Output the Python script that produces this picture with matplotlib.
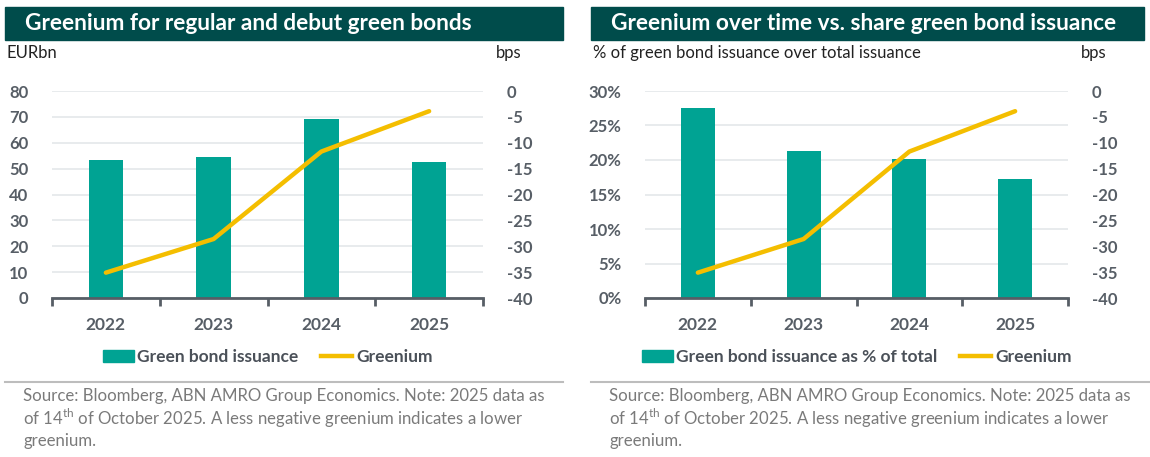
import matplotlib
matplotlib.use("Agg")
import matplotlib.pyplot as plt
from matplotlib.patches import Rectangle, Patch
from matplotlib.lines import Line2D
import numpy as np

plt.rcParams['font.family'] = ['Lato', 'DejaVu Sans']
plt.rcParams['mathtext.fontset'] = 'custom'
plt.rcParams['mathtext.rm'] = 'Lato'
plt.rcParams['axes.unicode_minus'] = False

# data
years = ['2022', '2023', '2024', '2025']
issuance = [53.2, 54.6, 69.2, 52.6]          # EURbn
share = [27.5, 21.3, 20.2, 17.3]             # % of total issuance
greenium = [-35.1, -28.6, -11.7, -3.9]       # bps

left_ticks = [0, 10, 20, 30, 40, 50, 60, 70, 80]
share_ticks = [0, 5, 10, 15, 20, 25, 30]
bps_ticks = [0, -5, -10, -15, -20, -25, -30, -35, -40]

# colours
BANNER = '#004c4b'
TEAL = '#00a393'
YELLOW = '#f4be00'
TICKCOL = '#575e66'
GRID = '#e4e7ea'
SRC = '#7a7a7a'

W, H = 1150, 457
fig = plt.figure(figsize=(W / 100, H / 100), dpi=100)


def fx(px):
    return px / W


def fy(py):
    return 1 - py / H


def panel(x0, x1, title, banner, ylab, bars, bar_ticks, bar_fmt, bar_max, bar_label, sep):
    ax = fig.add_axes([fx(x0), fy(298), fx(x1) - fx(x0), fy(91) - fy(298)])
    x = np.arange(len(years))
    ax.bar(x, bars, width=0.32, color=TEAL, zorder=2)
    ax.set_xlim(-0.5, len(years) - 0.5)
    ax.set_ylim(0, bar_max)
    ax.set_yticks(bar_ticks)
    ax.set_yticklabels([bar_fmt(v) for v in bar_ticks])
    ax.set_xticks(x)
    ax.set_xticklabels(years)
    ax.set_xticks(np.arange(-0.5, len(years)), minor=True)
    ax.tick_params(axis='x', which='major', length=0, pad=14, labelsize=12.5,
                   labelcolor=TICKCOL)
    ax.tick_params(axis='x', which='minor', length=6, width=2, color=TICKCOL, direction='out')
    ax.tick_params(axis='y', length=0, pad=17, labelsize=12, labelcolor=TICKCOL)
    for lab in ax.get_xticklabels() + ax.get_yticklabels():
        lab.set_fontweight('bold')
    ax.grid(axis='y', color=GRID, lw=1.2, zorder=0)
    for s in ['top', 'right', 'left']:
        ax.spines[s].set_visible(False)
    ax.spines['bottom'].set_color(TICKCOL)
    ax.spines['bottom'].set_linewidth(2)
    ax.spines['bottom'].set_zorder(4)

    ax2 = ax.twinx()
    ax2.plot(x, greenium, color=YELLOW, lw=3.2, solid_capstyle='round', zorder=3)
    ax2.set_ylim(-40, 0)
    ax2.set_yticks(bps_ticks)
    ax2.tick_params(axis='y', length=0, pad=17, labelsize=12, labelcolor=TICKCOL)
    for lab in ax2.get_yticklabels():
        lab.set_fontweight('bold')
    for s in ax2.spines.values():
        s.set_visible(False)

    # title banner
    fig.patches.append(Rectangle((fx(banner[0]), fy(40)), fx(banner[1]) - fx(banner[0]),
                                 fy(7) - fy(40), transform=fig.transFigure,
                                 color=BANNER, zorder=0))
    fig.text(fx(banner[0] + 20), fy(23.5), title, color='white', fontsize=16.3,
             fontweight='bold', va='center', ha='left')
    fig.text(fx(banner[0] + 2), fy(53), ylab, fontsize=12, color='#222222', va='center')
    fig.text(fx(x1 + 13), fy(53), 'bps', fontsize=12, color='#222222', va='center')

    # legend
    handles = [Patch(color=TEAL), Line2D([0], [0], color=YELLOW, lw=3.2)]
    leg = ax.legend(handles, [bar_label, 'Greenium'], ncol=2, frameon=False,
                    loc='center', bbox_to_anchor=(0.5, (298 - 357) / (298 - 91)),
                    handlelength=1.8, handletextpad=0.2, columnspacing=1.3,
                    prop={'size': 12.5, 'weight': 'bold'})
    for t in leg.get_texts():
        t.set_color('#4a5058')

    # separator and source
    fig.lines.append(Line2D([fx(sep[0]), fx(sep[1])], [fy(382), fy(382)],
                            transform=fig.transFigure, color='#bdbdbd', lw=1.5))
    src = ['Source: Bloomberg, ABN AMRO Group Economics. Note: 2025 data as',
           'of 14$^{\\rm th}$ of October 2025. A less negative greenium indicates a lower',
           'greenium.']
    for i, line in enumerate(src):
        fig.text(fx(banner[0] + 18), fy(396 + i * 22.5), line, fontsize=12.1,
                 color=SRC, va='center')
    return ax


panel(52, 483, 'Greenium for regular and debut green bonds', (5, 563), 'EURbn',
      issuance, left_ticks, lambda v: f'{v}', 80, 'Green bond issuance', (5, 563))
panel(645, 1068, 'Greenium over time vs. share green bond issuance', (591, 1144),
      '% of green bond issuance over total issuance',
      share, share_ticks, lambda v: f'{v}%', 30, 'Green bond issuance as % of total',
      (591, 1150))

fig.savefig('out.png', dpi=100)
